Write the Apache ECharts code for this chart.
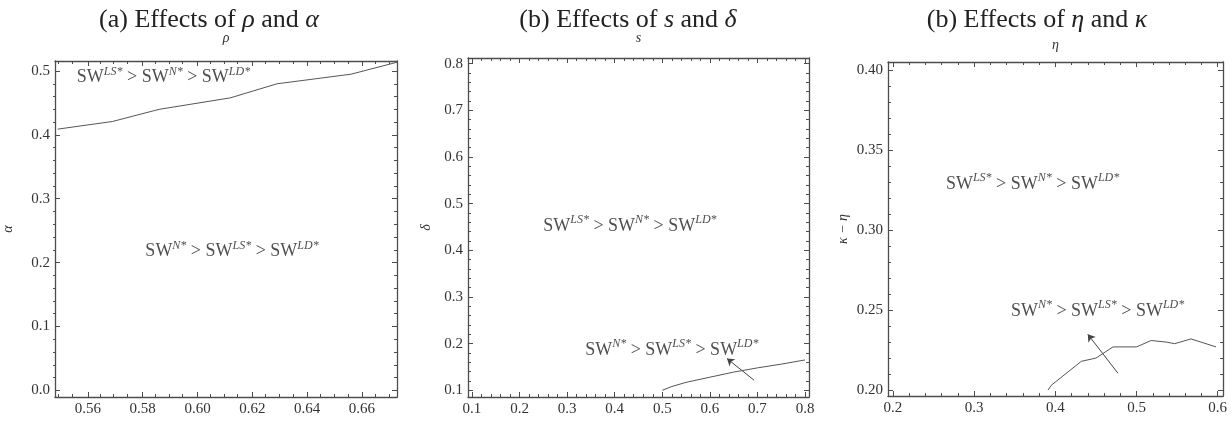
<!DOCTYPE html>
<html>
<head>
<meta charset="utf-8">
<title>Effects on SW</title>
<script src="https://cdn.jsdelivr.net/npm/echarts@6/dist/echarts.min.js"></script>
<style>
  html, body { margin: 0; padding: 0; background: #fff; }
  #chart { width: 1231px; height: 423px; }
</style>
</head>
<body>
<div id="chart"></div>
<script>
// ---- data ----
// (a) boundary curve, rho vs alpha
const rhoVals = [0.549, 0.569, 0.586, 0.612, 0.629, 0.656, 0.673];
const alphaVals = [0.409, 0.421, 0.440, 0.458, 0.480, 0.495, 0.514];
// (b) boundary curve, s vs delta
const sVals = [0.500, 0.520, 0.550, 0.600, 0.650, 0.700, 0.750, 0.800];
const deltaVals = [0.100, 0.108, 0.117, 0.128, 0.139, 0.148, 0.156, 0.165];
// (c) boundary curve, eta vs kappa - eta
const etaVals = [0.391, 0.395, 0.432, 0.450, 0.471, 0.500, 0.518, 0.537, 0.547, 0.567, 0.598];
const kappaVals = [0.200, 0.203, 0.218, 0.220, 0.227, 0.227, 0.231, 0.230, 0.229, 0.232, 0.227];

// tick labels
const xTicksA = [0.56, 0.58, 0.60, 0.62, 0.64, 0.66];
const yTicksA = [0.0, 0.1, 0.2, 0.3, 0.4, 0.5];
const xTicksB = [0.1, 0.2, 0.3, 0.4, 0.5, 0.6, 0.7, 0.8];
const yTicksB = [0.1, 0.2, 0.3, 0.4, 0.5, 0.6, 0.7, 0.8];
const xTicksC = [0.2, 0.3, 0.4, 0.5, 0.6];
const yTicksC = [0.20, 0.25, 0.30, 0.35, 0.40];

// region labels
const orderLS = ['LS*', 'N*', 'LD*'];
const orderN = ['N*', 'LS*', 'LD*'];

const FRAME = '#4d4d4d';
const SERIF = '"Liberation Serif", "DejaVu Serif", serif';

const chart = echarts.init(document.getElementById('chart'));

function swText(order) {
    return order.map(function (s, i) {
        return (i ? '{t| > SW}' : '{t|SW}') + '{s|' + s + '}';
    }).join('');
}
const swRich = {
    t: { fontFamily: SERIF, fontSize: 18, color: '#222', lineHeight: 24 },
    s: { fontFamily: SERIF, fontSize: 12, fontStyle: 'italic', color: '#222', verticalAlign: 'top' }
};

// minor tick positions between majors
function minorTicks(lo, hi, step, majors) {
    const out = [];
    const n0 = Math.ceil(lo / step - 1e-6), n1 = Math.floor(hi / step + 1e-6);
    for (let k = n0; k <= n1; k++) {
        const v = +(k * step).toFixed(6);
        if (!majors.some(function (m) { return Math.abs(m - v) < 1e-6; })) out.push(v);
    }
    return out;
}

const grids = [], xAxes = [], yAxes = [], series = [], titles = [];

function axis(dim, grid, pos, range, ticks, len, opts) {
    const a = {
        type: 'value',
        gridIndex: grid,
        position: pos,
        min: range[0],
        max: range[1],
        axisLine: { show: opts.line, onZero: false, lineStyle: { color: FRAME, width: 1.3 } },
        axisTick: { show: true, inside: true, length: len, customValues: ticks, lineStyle: { color: FRAME, width: 1 } },
        axisLabel: { show: false },
        splitLine: { show: false }
    };
    if (opts.labels) {
        a.axisLabel = {
            show: true,
            customValues: ticks,
            fontFamily: SERIF,
            fontSize: 15,
            color: '#333',
            margin: 5,
            formatter: function (v) { return v.toFixed(opts.digits); }
        };
    }
    if (opts.name) {
        a.name = opts.name;
        a.nameLocation = 'middle';
        a.nameGap = opts.nameGap;
        a.nameTextStyle = { fontFamily: SERIF, fontSize: 14, fontStyle: 'italic', color: '#333' };
    }
    (dim === 'x' ? xAxes : yAxes).push(a);
    return (dim === 'x' ? xAxes : yAxes).length - 1;
}

function addPanel(p) {
    const rect = { left: p.box[0], top: p.box[1], width: p.box[2] - p.box[0], height: p.box[3] - p.box[1] };
    const g = grids.length;
    grids.push(Object.assign({}, rect));
    grids.push(Object.assign({}, rect));
    const xMin = minorTicks(p.xr[0], p.xr[1], p.xStep, p.xTicks);
    const yMin = minorTicks(p.yr[0], p.yr[1], p.yStep, p.yTicks);
    // frame with major ticks
    const xi = axis('x', g, 'bottom', p.xr, p.xTicks, 5, { line: true, labels: true, digits: p.xDigits });
    axis('x', g, 'top', p.xr, p.xTicks, 5, { line: true, name: p.xName, nameGap: p.xGap });
    const yi = axis('y', g, 'left', p.yr, p.yTicks, 5, { line: true, labels: true, digits: p.yDigits, name: p.yName, nameGap: p.yGap });
    axis('y', g, 'right', p.yr, p.yTicks, 5, { line: true });
    // minor ticks on overlay grid
    axis('x', g + 1, 'bottom', p.xr, xMin, 3, { line: false });
    axis('x', g + 1, 'top', p.xr, xMin, 3, { line: false });
    axis('y', g + 1, 'left', p.yr, yMin, 3, { line: false });
    axis('y', g + 1, 'right', p.yr, yMin, 3, { line: false });

    series.push({
        type: 'line',
        xAxisIndex: xi,
        yAxisIndex: yi,
        showSymbol: false,
        silent: true,
        lineStyle: { color: '#555', width: 1 },
        data: p.xs.map(function (x, i) { return [x, p.ys[i]]; })
    });
    p.notes.forEach(function (n) {
        series.push({
            type: 'scatter',
            xAxisIndex: xi,
            yAxisIndex: yi,
            symbolSize: 1,
            silent: true,
            itemStyle: { color: 'rgba(0,0,0,0)' },
            label: { show: true, position: 'inside', formatter: swText(n.order), rich: swRich },
            data: [n.at]
        });
    });
    if (p.arrow) {
        series.push({
            type: 'lines',
            coordinateSystem: 'cartesian2d',
            xAxisIndex: xi,
            yAxisIndex: yi,
            silent: true,
            symbol: ['none', 'arrow'],
            symbolSize: 7,
            lineStyle: { color: '#444', width: 1, opacity: 1 },
            data: [{ coords: p.arrow }]
        });
    }
    titles.push({
        text: p.title,
        left: p.titleX,
        top: 2,
        textAlign: 'center',
        textStyle: {
            fontFamily: SERIF, fontSize: 26, fontWeight: 'normal', color: '#222',
            rich: { i: { fontFamily: SERIF, fontSize: 26, fontStyle: 'italic', color: '#222' } }
        }
    });
}

addPanel({
    box: [53, 61, 397, 397], xr: [0.548, 0.6728], yr: [-0.0105, 0.5157],
    xTicks: xTicksA, yTicks: yTicksA, xStep: 0.005, yStep: 0.02, xDigits: 2, yDigits: 1,
    xName: 'ρ', xGap: 16, yName: 'α', yGap: 40,
    xs: rhoVals, ys: alphaVals,
    notes: [{ order: orderLS, at: [0.5876, 0.490] }, { order: orderN, at: [0.6126, 0.217] }],
    title: '(a) Effects of {i|ρ} and {i|α}', titleX: 204
});
addPanel({
    box: [468, 58, 809, 397], xr: [0.0916, 0.8084], yr: [0.0856, 0.812],
    xTicks: xTicksB, yTicks: yTicksB, xStep: 0.02, yStep: 0.02, xDigits: 1, yDigits: 1,
    xName: 's', xGap: 13, yName: 'δ', yGap: 35,
    xs: sVals, ys: deltaVals,
    notes: [{ order: orderLS, at: [0.432, 0.452] }, { order: orderN, at: [0.520, 0.186] }],
    arrow: [[0.693, 0.1215], [0.636, 0.168]],
    title: '(b) Effects of {i|s} and {i|δ}', titleX: 623
});
addPanel({
    box: [888, 62, 1223, 396], xr: [0.1939, 0.6065], yr: [0.1963, 0.4052],
    xTicks: xTicksC, yTicks: yTicksC, xStep: 0.02, yStep: 0.01, xDigits: 1, yDigits: 2,
    xName: 'η', xGap: 10, yName: 'κ − η', yGap: 38,
    xs: etaVals, ys: kappaVals,
    notes: [{ order: orderLS, at: [0.372, 0.329] }, { order: orderN, at: [0.452, 0.2495] }],
    arrow: [[0.477, 0.2106], [0.440, 0.2349]],
    title: '(b) Effects of {i|η} and {i|κ}', titleX: 1032
});

chart.setOption({
    animation: false,
    backgroundColor: '#fff',
    title: titles,
    grid: grids,
    xAxis: xAxes,
    yAxis: yAxes,
    series: series
});
</script>
</body>
</html>
